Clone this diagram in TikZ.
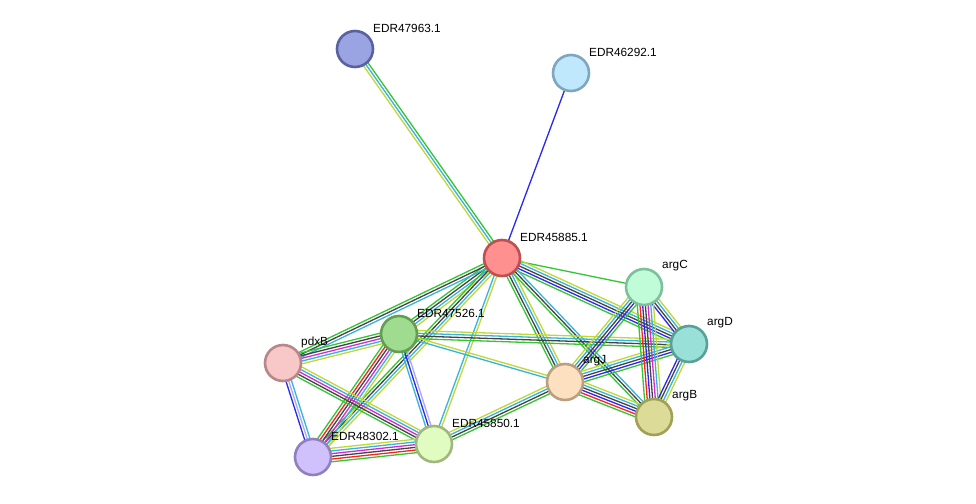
\documentclass[tikz,border=0pt]{standalone}
\usepackage{fontspec}
\setmainfont{Liberation Sans}
\usetikzlibrary{calc,backgrounds}
\definecolor{nb}{HTML}{33C633}
\definecolor{fu}{HTML}{FF2020}
\definecolor{co}{HTML}{2828F0}
\definecolor{ce}{HTML}{444444}
\definecolor{ex}{HTML}{D22AD2}
\definecolor{db}{HTML}{36B4DC}
\definecolor{tm}{HTML}{C0D836}
\definecolor{ho}{HTML}{A8A8FF}
\tikzset{
  prot/.style={circle,minimum size=36pt,inner sep=0pt,line width=2.6pt},
  lab/.style={anchor=west,font=\fontsize{11.8}{13}\selectfont,inner sep=0pt},
  edge/.style={line width=1.3pt}
}
\newcommand\bund[4]{%
  \foreach \cc [count=\ii] in {#4}{%
    \pgfmathsetmacro\off{(\ii-(#3+1)/2)*2.7}%
    \draw[edge,\cc] ($(#1)!\off pt!90:(#2)$) -- ($(#2)!\off pt!-90:(#1)$);
  }%
}
\begin{document}
\begin{tikzpicture}[x=1pt,y=-1pt]
\path[use as bounding box] (0,0) rectangle (976,503);
% nodes
\node[prot,fill={rgb,255:red,155;green,164;blue,226},draw={rgb,255:red,88;green,98;blue,160}] (a47963) at (355,49) {};
\node[prot,fill={rgb,255:red,192;green,232;blue,252},draw={rgb,255:red,126;green,166;blue,192}] (a46292) at (571,73) {};
\node[prot,fill={rgb,255:red,255;green,144;blue,144},draw={rgb,255:red,190;green,80;blue,80}] (a45885) at (502,258) {};
\node[prot,fill={rgb,255:red,192;green,252;blue,216},draw={rgb,255:red,126;green,192;blue,156}] (argC) at (644,287) {};
\node[prot,fill={rgb,255:red,152;green,224;blue,216},draw={rgb,255:red,88;green,160;blue,152}] (argD) at (689,344) {};
\node[prot,fill={rgb,255:red,160;green,220;blue,144},draw={rgb,255:red,96;green,160;blue,80}] (a47526) at (399,334) {};
\node[prot,fill={rgb,255:red,248;green,200;blue,200},draw={rgb,255:red,184;green,136;blue,136}] (pdxB) at (283,363) {};
\node[prot,fill={rgb,255:red,252;green,224;blue,192},draw={rgb,255:red,184;green,160;blue,128}] (argJ) at (565,382) {};
\node[prot,fill={rgb,255:red,220;green,220;blue,152},draw={rgb,255:red,160;green,160;blue,88}] (argB) at (654,417) {};
\node[prot,fill={rgb,255:red,208;green,192;blue,252},draw={rgb,255:red,144;green,128;blue,192}] (a48302) at (313,457) {};
\node[prot,fill={rgb,255:red,224;green,252;blue,192},draw={rgb,255:red,160;green,184;blue,128}] (a45850) at (434,444) {};
% labels
\node[lab] (l47963) at ($(a47963)+(18,-21)$) {EDR47963.1};
\node[lab] (l46292) at ($(a46292)+(18,-21)$) {EDR46292.1};
\node[lab] (l45885) at ($(a45885)+(18,-21)$) {EDR45885.1};
\node[lab] (largC) at ($(argC)+(18,-21)$) {argC};
\node[lab] (largD) at ($(argD)+(18,-21)$) {argD};
\node[lab] (l47526) at ($(a47526)+(18,-21)$) {EDR47526.1};
\node[lab] (lpdxB) at ($(pdxB)+(18,-21)$) {pdxB};
\node[lab] (largJ) at ($(argJ)+(18,-21)$) {argJ};
\node[lab] (largB) at ($(argB)+(18,-21)$) {argB};
\node[lab] (l48302) at ($(a48302)+(18,-21)$) {EDR48302.1};
\node[lab] (l45850) at ($(a45850)+(18,-21)$) {EDR45850.1};
% edges
\begin{pgfonlayer}{background}
\fill[white] (0,0) rectangle (976,503);
\bund{a47963}{a45885}{3}{tm,db,nb}
\bund{a46292}{a45885}{1}{co}
\bund{a45885}{argC}{1}{nb}
\bund{a45885}{argD}{5}{nb,co,ce,db,tm}
\bund{a45885}{argJ}{4}{nb,ce,db,tm}
\bund{a45885}{argB}{3}{nb,ce,db}
\bund{a45885}{a47526}{4}{nb,ce,db,tm}
\bund{a45885}{pdxB}{3}{nb,ce,db}
\bund{a45885}{a45850}{2}{db,tm}
\bund{a45885}{a48302}{4}{nb,ce,db,tm}
\bund{a47526}{pdxB}{5}{nb,ce,ex,db,tm}
\bund{a47526}{argD}{4}{nb,ce,db,tm}
\bund{a47526}{argJ}{2}{db,tm}
\bund{a47526}{a48302}{6}{nb,fu,ce,ex,db,tm}
\bund{a47526}{a45850}{3}{db,co,ho}
\bund{pdxB}{a48302}{3}{co,ho,db}
\bund{pdxB}{a45850}{5}{nb,ce,ex,db,tm}
\bund{a48302}{a45850}{6}{nb,fu,ce,ex,db,tm}
\bund{a45850}{argJ}{4}{nb,ce,db,tm}
\bund{argJ}{argC}{5}{nb,co,ce,db,tm}
\bund{argJ}{argD}{5}{nb,co,ce,db,tm}
\bund{argJ}{argB}{6}{nb,fu,co,ce,db,tm}
\bund{argC}{argD}{4}{co,ce,db,tm}
\bund{argC}{argB}{7}{nb,fu,co,ce,ex,db,tm}
\bund{argD}{argB}{4}{co,ce,db,tm}
\end{pgfonlayer}
\end{tikzpicture}
\end{document}
